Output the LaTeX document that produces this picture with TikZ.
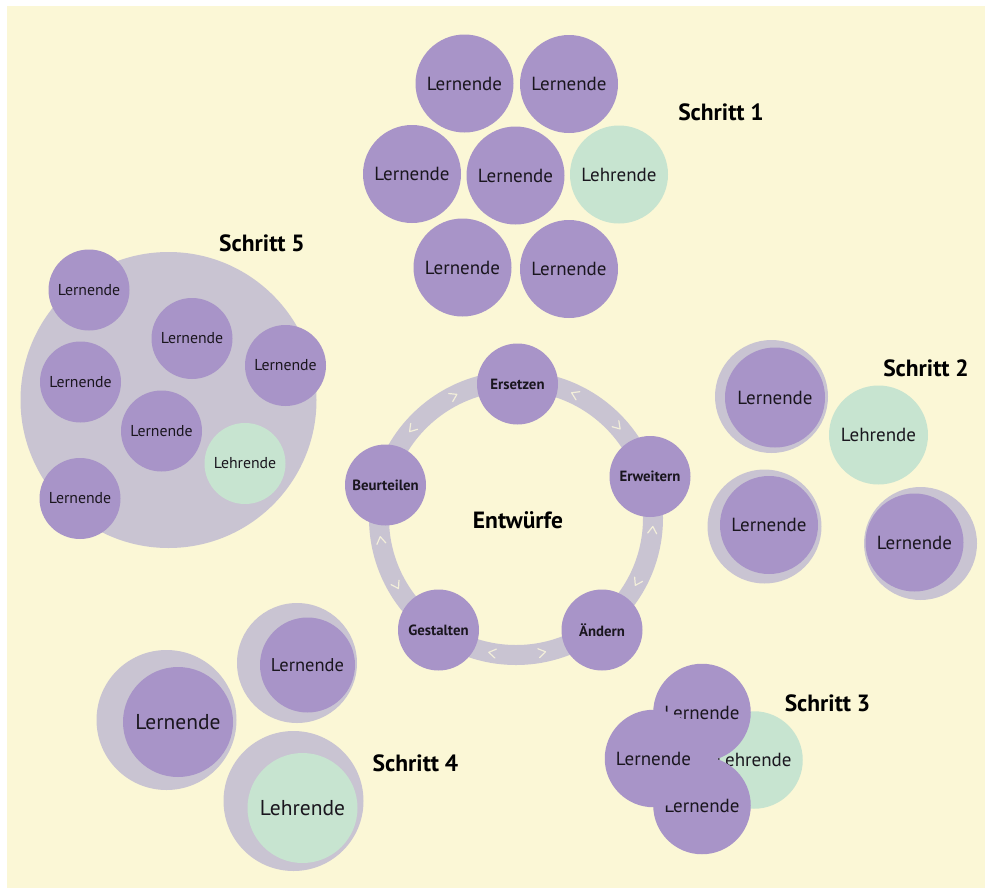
\documentclass[tikz,border=0pt]{standalone}
\usepackage{fontspec}
\setmainfont{PT Sans}
\definecolor{cream}{RGB}{251,247,214}
\definecolor{lila}{RGB}{168,148,200}
\definecolor{mint}{RGB}{199,228,208}
\definecolor{greyv}{RGB}{201,196,210}
\definecolor{ink}{RGB}{26,22,30}
\definecolor{chevc}{RGB}{242,238,218}
\newcommand\fsz[1]{\fontsize{#1}{#1}\selectfont}
\begin{document}
\begin{tikzpicture}[x=1pt,y=-1pt,
 disc/.style={circle, inner sep=0pt, outer sep=0pt, text=ink},
 lern/.style={disc, fill=lila},
 lehr/.style={disc, fill=mint},
 halo/.style={disc, fill=greyv},
 stepnode/.style={disc, fill=lila, font=\bfseries\fsz{14.8}, minimum size=81},
 titel/.style={font=\bfseries\fsz{23.5}, text=black, inner sep=0pt},
 ringband/.style={circle, draw=greyv, line width=20pt, inner sep=0pt, minimum size=274},
 chevline/.style={draw=chevc, line width=1.2pt, line cap=round, line join=round},
 chev/.pic={\draw[chevline] (-3.5,4.5) -- (3.5,0) -- (-3.5,-4.5);},
]
\useasboundingbox (0,0) rectangle (985,889);
\fill[white] (0,0) rectangle (985,889);
\fill[cream] (7,6) rectangle (985,888);

% Schritt 1
\begin{scope}[every node/.append style={font=\fsz{19}, minimum size=98}]
\node[lern] (s1a) at (464.5,83.5) {Lernende};
\node[lern] (s1b) at (569,84) {Lernende};
\node[lern] (s1c) at (412,174) {Lernende};
\node[lern] (s1d) at (515.5,175.5) {Lernende};
\node[lehr] (s1e) at (619,174.5) {Lehrende};
\node[lern] (s1f) at (462.5,267.5) {Lernende};
\node[lern] (s1g) at (569,269) {Lernende};
\end{scope}
\node[titel] (t1) at (721,112) {Schritt 1};

% Schritt 5
\node[halo, minimum size=296] (s5) at (168.5,400) {};
\begin{scope}[every node/.append style={font=\fsz{15.8}, minimum size=81}]
\node[lern] (s5a) at (89,290) {Lernende};
\node[lern] (s5b) at (192,338.5) {Lernende};
\node[lern] (s5c) at (285.5,365.5) {Lernende};
\node[lern] (s5d) at (80.5,382) {Lernende};
\node[lern] (s5e) at (161.5,431) {Lernende};
\node[lehr] (s5f) at (245,463.5) {Lehrende};
\node[lern] (s5g) at (80,498.5) {Lernende};
\end{scope}
\node[titel] (t5) at (262,243) {Schritt 5};

% Schritt 2
\begin{scope}[every node/.append style={font=\fsz{19}}]
\node[halo, minimum size=113] (s2ah) at (771.5,396.5) {};
\node[lern, minimum size=100] (s2a) at (775,397.5) {Lernende};
\node[lehr, minimum size=99] (s2b) at (878.5,435) {Lehrende};
\node[halo, minimum size=114] (s2ch) at (764.5,526.5) {};
\node[lern, minimum size=98] (s2c) at (769,525) {Lernende};
\node[halo, minimum size=113] (s2dh) at (920.5,543.5) {};
\node[lern, minimum size=98] (s2d) at (914.5,542.5) {Lernende};
\end{scope}
\node[titel] (t2) at (926,368) {Schritt 2};

% Schritt 4
\node[halo, minimum size=140] (s4ah) at (166.5,720) {};
\node[lern, minimum size=110, font=\fsz{21.5}] (s4a) at (178,722) {Lernende};
\node[halo, minimum size=120] (s4bh) at (297,663) {};
\node[lern, minimum size=95, font=\fsz{18.5}] (s4b) at (307.5,665) {Lernende};
\node[halo, minimum size=140] (s4ch) at (293.5,801) {};
\node[lehr, minimum size=110, font=\fsz{21.5}] (s4c) at (302.5,808) {Lehrende};
\node[titel] (t4) at (415.5,763) {Schritt 4};

% Schritt 3
\begin{scope}[every node/.append style={font=\fsz{19}, minimum size=97.5}]
\node[lehr] (s3d) at (754,760) {Lehrende};
\node[lern] (s3a) at (702,712.5) {Lernende};
\node[lern] (s3c) at (702,805.5) {Lernende};
\node[lern] (s3b) at (653.5,758.5) {Lernende};
\end{scope}
\node[titel] (t3) at (827.5,703) {Schritt 3};

% Zyklus
\node[ringband] (ring) at (516,518) {};
\begin{scope}[shift={(516,518)}, yscale=-1]
\pic[rotate=27] at (117:137) {chev};
\pic[rotate=229.5] at (139.5:137) {chev};
\pic[rotate=154.6] at (64.6:137) {chev};
\pic[rotate=-48] at (42:137) {chev};
\pic[rotate=85] at (-5:137) {chev};
\pic[rotate=-118] at (-28:137) {chev};
\pic[rotate=11] at (-79:137) {chev};
\pic[rotate=170] at (-100:137) {chev};
\pic[rotate=299.5] at (209.5:137) {chev};
\pic[rotate=99.3] at (189.3:137) {chev};
\end{scope}
\node[stepnode] (ers) at (517.5,384) {Ersetzen};
\node[stepnode] (erw) at (650,476.5) {Erweitern};
\node[stepnode] (aen) at (602,630) {Ändern};
\node[stepnode] (ges) at (438.5,630) {Gestalten};
\node[stepnode] (beu) at (385.5,485) {Beurteilen};
\node[font=\bfseries\fsz{23.5}, text=black, inner sep=0pt] (ent) at (518,520) {Entwürfe};
\end{tikzpicture}
\end{document}
